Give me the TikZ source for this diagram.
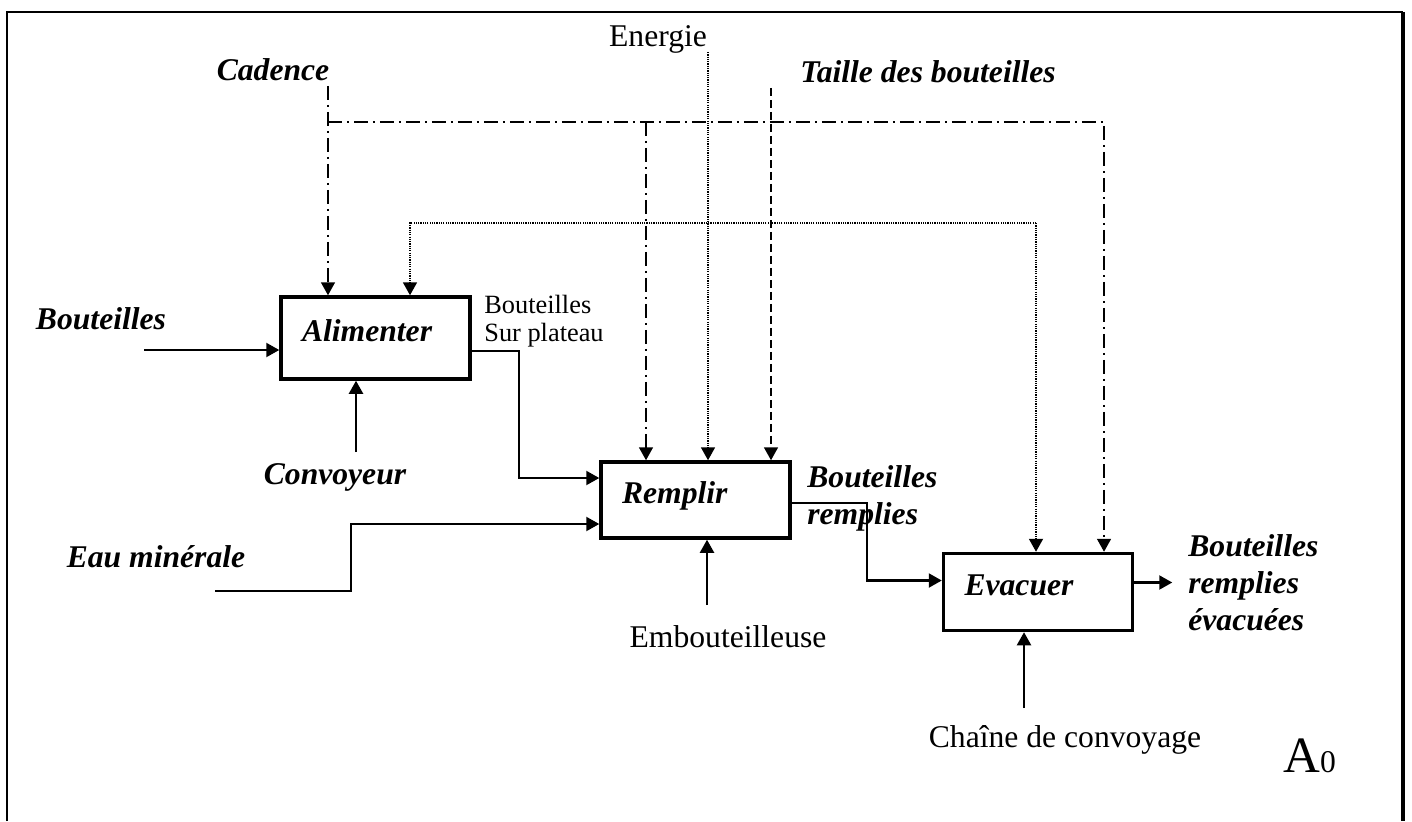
\documentclass[tikz,border=0pt]{standalone}
\usepackage{fontspec}
\setmainfont{Liberation Serif}
\usetikzlibrary{arrows.meta,positioning}

\begin{document}
\begin{tikzpicture}[x=0.02cm,y=-0.02cm,
    fn/.style={draw, line width=2pt, minimum width=3.78cm, minimum height=1.54cm,
        inner xsep=0.42cm, text width=2.94cm, align=left, text height=0.45cm, text depth=0.31cm,
        font=\fontsize{18}{21}\selectfont\bfseries\itshape},
    flow/.style={line width=1.2pt, -{Triangle[length=0.26cm,width=0.28cm]}},
    cadline/.style={line width=0.9pt, dash pattern=on 0.28cm off 0.1cm on 0.04cm off 0.1cm,
        -{Triangle[length=0.26cm,width=0.28cm]}},
    enline/.style={line width=1pt, dash pattern=on 0.7pt off 0.6pt,
        -{Triangle[length=0.26cm,width=0.28cm]}},
    tailline/.style={line width=0.9pt, dash pattern=on 0.16cm off 0.08cm,
        -{Triangle[length=0.26cm,width=0.28cm]}},
    lbl/.style={inner sep=0pt, font=\fontsize{18}{21}\selectfont},
    lblit/.style={inner sep=0pt, align=left, font=\fontsize{18}{21}\selectfont\bfseries\itshape}]
    \useasboundingbox (0,0) rectangle (1412,821);

    % Frame
    \draw[line width=1.2pt] (7,821) -- (7,12) -- (1403,12);
    \draw[line width=1.8pt] (1403,12) -- (1403,821);

    % Functions
    \node[fn, minimum height=1.64cm] (alim) at (375.5,338) {Alimenter};
    \node[fn, minimum height=1.52cm] (rempl) at (695.5,500) {Remplir};
    \node[fn] (evac) at (1038,592) {Evacuer};

    % Controls
    \node[lblit] (tcad) at (273,70) {Cadence};
    \node[lbl] (ten) at (658,39) {Energie};
    \node[lblit] (ttail) at (928,72) {Taille des bouteilles};

    \coordinate (cad) at (328,86);
    \coordinate (cadbr) at (328,122);
    \coordinate (cadmid) at (646,122);
    \coordinate (cadend) at (1104,122);
    \draw[cadline] (cad) -- (cad |- alim.north);
    \draw[cadline] (cadbr) -- (cadend) -- (cadend |- evac.north);
    \draw[cadline] (cadmid) -- (cadmid |- rempl.north);

    \coordinate (en) at (708,52);
    \coordinate (enleft) at (410,223);
    \coordinate (enright) at (1036,223);
    \draw[enline] (en) -- (en |- rempl.north);
    \draw[enline] (enright) -- (enleft) -- (enleft |- alim.north);
    \draw[enline] (enright) -- (enright |- evac.north);

    \coordinate (tail) at (771,88);
    \draw[tailline] (tail) -- (tail |- rempl.north);

    % Inputs and outputs
    \node[lblit] (tbout) at (101,319) {Bouteilles};
    \coordinate (bout) at (144,350);
    \draw[flow] (bout) -- (bout -| alim.west);

    \node[lbl, anchor=west, align=left, font=\fontsize{15}{16}\selectfont] (tplat) at (484,321) {Bouteilles\\Sur plateau};
    \draw[flow] (alim.east) ++(0,13) -- ++(47,0) |- ([yshift=0.44cm]rempl.west);

    \node[lblit] (teau) at (156,557) {Eau minérale};
    \coordinate (eau) at (215,591);
    \draw[flow] (eau) -- ++(136,0) |- ([yshift=-0.48cm]rempl.west);

    \node[lblit, anchor=west] (trempl) at (807,498) {Bouteilles\\remplies};
    \draw[flow] (rempl.east) ++(0,3) -- ++(75,0) |- ([yshift=0.23cm]evac.west);

    \node[lblit, anchor=west] (tevac) at (1188,583) {Bouteilles\\remplies\\évacuées};
    \draw[flow] ([yshift=0.19cm]evac.east) -- ++(38,0);

    % Mechanisms
    \node[lblit] (tconv) at (335,477) {Convoyeur};
    \coordinate (conv) at (356,452);
    \draw[flow] (conv) -- (conv |- alim.south);

    \node[lbl] (temb) at (728,637) {Embouteilleuse};
    \coordinate (emb) at (707,605);
    \draw[flow] (emb) -- (emb |- rempl.south);

    \node[lbl] (tchn) at (1065,740) {Chaîne de convoyage};
    \coordinate (chn) at (1024,708);
    \draw[flow] (chn) -- (chn |- evac.south);

    % Diagram number
    \node[inner sep=0pt, anchor=base west] (tnum) at (1283,772) {\fontsize{29}{29}\selectfont A\fontsize{18}{18}\selectfont 0};
\end{tikzpicture}
\end{document}
